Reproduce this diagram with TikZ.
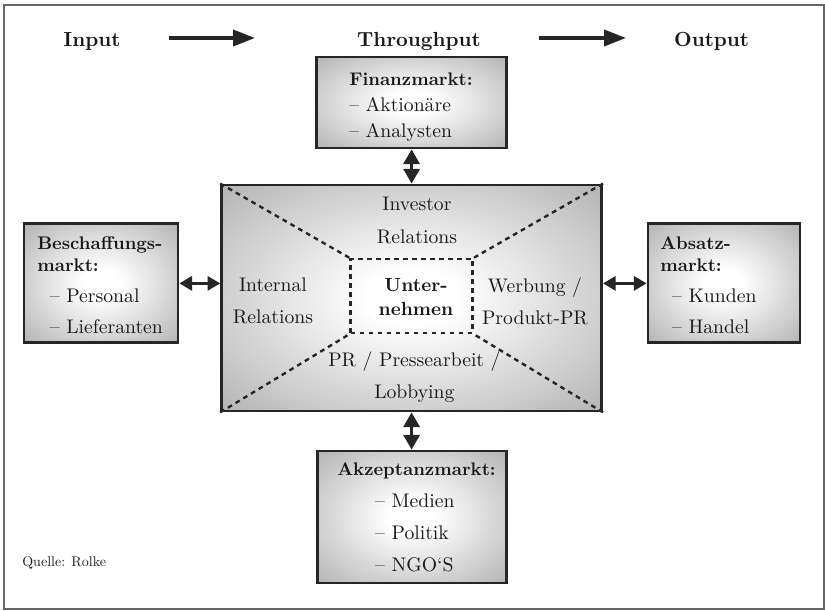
\documentclass[tikz,border=0pt]{standalone}
\usepackage{fontspec}
\setmainfont{lmroman10}[Extension=.otf, UprightFont=*-regular, BoldFont=*-bold, ItalicFont=*-italic, BoldItalicFont=*-bolditalic]
\usepackage{tikz}
\usetikzlibrary{arrows.meta}

\pgfdeclareradialshading{boxshade}{\pgfpoint{0bp}{0bp}}{color(0bp)=(white); color(6bp)=(white); color(50bp)=(black!44); color(72bp)=(black!58)}
\newcommand{\ttl}[1]{{\fontsize{13}{15}\selectfont\bfseries #1}}

\tikzset{
	markt/.style={draw=black!85, line width=2pt, shade, shading=boxshade, inner sep=0pt},
	sector/.style={draw=black!85, line width=1.7pt, dash pattern=on 3.4pt off 3pt},
	txt/.style={font=\fontsize{14}{23}\selectfont, text=black!90, align=center, inner sep=0pt},
	boxtxt/.style={text=black!90, align=left, inner sep=0pt, anchor=west},
	toplbl/.style={font=\fontsize{14.5}{17}\selectfont\bfseries, text=black!90, inner sep=0pt, anchor=base},
	flow/.style={line width=2.5pt, draw=black!85, -{Triangle[length=15.6pt,width=11.4pt]}},
	dbl/.style={line width=2.1pt, draw=black!85, {Triangle[length=10.5pt,width=11.5pt]}-{Triangle[length=10.5pt,width=11.5pt]}},
	dblh/.style={line width=2.1pt, draw=black!85, {Triangle[length=9pt,width=10pt]}-{Triangle[length=9pt,width=10pt]}}
}

\begin{document}
\begin{tikzpicture}
		\useasboundingbox (0,0) rectangle (20.625,15.275);
		\draw[black!60, line width=0.8pt] (0.1,0.05) rectangle (20.6,15.15);
		
		% input -> throughput -> output
		\node[toplbl] (input) at (2.3,14.11) {Input};
		\node[toplbl] (thru) at (10.475,14.11) {Throughput};
		\node[toplbl] (output) at (17.79,14.11) {Output};
		\coordinate (f1a) at (4.225,14.325);
		\coordinate (f1b) at (6.375,14.325);
		\coordinate (f2a) at (13.475,14.325);
		\coordinate (f2b) at (15.65,14.325);
		\draw[flow] (f1a) -- (f1b);
		\draw[flow] (f2a) -- (f2b);
		
		% markets
		\node[markt, minimum width=4.75cm, minimum height=2.275cm] (finanz) at (10.29,12.7125) {};
		\node[markt, minimum width=3.85cm, minimum height=2.975cm] (besch) at (2.525,8.19) {};
		\node[markt, minimum width=3.8cm, minimum height=2.975cm] (absatz) at (18.1,8.19) {};
		\node[markt, minimum width=4.725cm, minimum height=3.3cm] (akzept) at (10.29,2.35) {};
		
		% company with its four fields
		\node[markt, minimum width=9.5cm, minimum height=5.65cm] (main) at (10.29,7.825) {};
		\node[sector, minimum width=3.05cm, minimum height=1.85cm] (inner) at (10.29,7.875) {};
		\foreach \c in {north west,north east,south west,south east}
			\draw[sector] (main.\c) -- (inner.\c);
		
		\node[txt] (invest) at (10.425,9.76) {Investor\\Relations};
		\node[txt] (internal) at (6.825,7.75) {Internal\\Relations};
		\node[txt, font=\fontsize{13.5}{17.5}\selectfont\bfseries] (unter) at (10.4,7.85) {Unter-\\nehmen};
		\node[txt] (werbung) at (13.375,7.74) {Werbung /\\Produkt-PR};
		\node[txt] (pr) at (10.36,5.85) {PR / Pressearbeit /\\Lobbying};
		
		% box texts
		\node[boxtxt, font=\fontsize{14}{18.5}\selectfont] (finanztxt) at (8.725,12.6) {\ttl{Finanzmarkt:}\\-- Aktionäre\\-- Analysten};
		\node[boxtxt, font=\fontsize{14}{22}\selectfont] (beschtxt) at (0.925,8.14) {\ttl{Beschaffungs-}\\[-6.4pt]\ttl{markt:}\\\hspace{9pt}-- Personal\\\hspace{9pt}-- Lieferanten};
		\node[boxtxt, font=\fontsize{14}{22}\selectfont] (absatztxt) at (16.5,8.15) {\ttl{Absatz-}\\[-6.4pt]\ttl{markt:}\\\hspace{8.5pt}-- Kunden\\\hspace{8.5pt}-- Handel};
		\node[boxtxt, font=\fontsize{14}{22.8}\selectfont] (akzepttxt) at (8.425,2.35) {\ttl{Akzeptanzmarkt:}\\\hspace{27pt}-- Medien\\\hspace{27pt}-- Politik\\\hspace{27pt}-- NGO‘S};
		
		% exchanges with the markets
		\draw[dbl] (finanz) -- (main);
		\draw[dbl] (main) -- (akzept);
		\draw[dblh] (besch.east) -- (besch.east -| main.west);
		\draw[dblh] (main.east |- absatz.west) -- (absatz.west);
		
		\node[font=\fontsize{10}{12}\selectfont, text=black!90, anchor=west, inner sep=0pt] (quelle) at (0.55,1.2) {Quelle: Rolke};
	\end{tikzpicture}
\end{document}
